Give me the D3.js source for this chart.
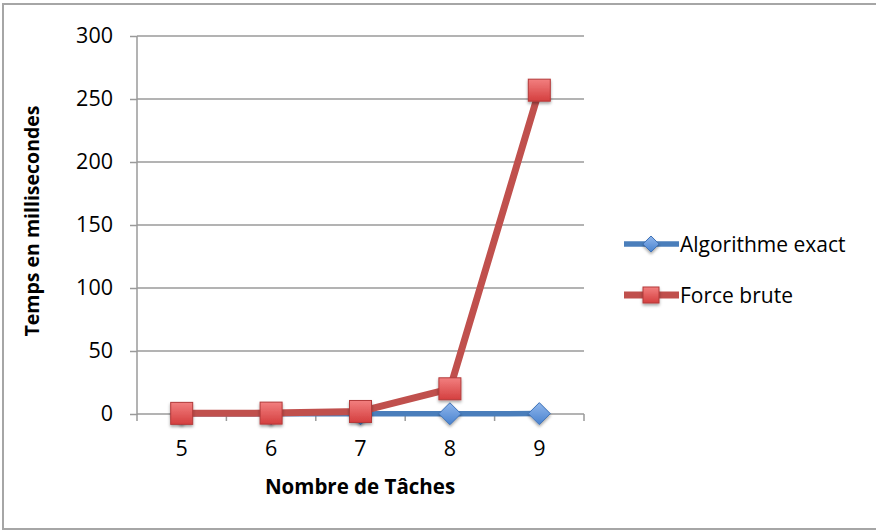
<!DOCTYPE html>
<html>
<head>
<meta charset="utf-8">
<script src="https://cdn.jsdelivr.net/npm/d3@7"></script>
<style>
  html, body { margin: 0; padding: 0; background: #fff; }
  svg { display: block; }
  text { font-family: "Open Sans", "Liberation Sans", sans-serif; fill: #000; }
</style>
</head>
<body>
<svg id="chart" width="876" height="530"></svg>
<script>
// Task counts on the x axis
const categories = ["5", "6", "7", "8", "9"];
// Run time in milliseconds for each method
const exactValues = [0.1, 0.1, 0.1, 0.2, 0.3];
const bruteValues = [0.5, 0.7, 2, 20, 257];
const yTicks = [0, 50, 100, 150, 200, 250, 300];
const seriesNames = ["Algorithme exact", "Force brute"];

const svg = d3.select("#chart");
const defs = svg.append("defs");

// Marker fills and soft shadow
const redGrad = defs.append("linearGradient").attr("id", "redGrad").attr("x1", 0).attr("y1", 0).attr("x2", 0).attr("y2", 1);
redGrad.append("stop").attr("offset", "0%").attr("stop-color", "#f27f7f");
redGrad.append("stop").attr("offset", "100%").attr("stop-color", "#d43f3f");
const blueGrad = defs.append("linearGradient").attr("id", "blueGrad").attr("x1", 0).attr("y1", 0).attr("x2", 0).attr("y2", 1);
blueGrad.append("stop").attr("offset", "0%").attr("stop-color", "#8fb6ec");
blueGrad.append("stop").attr("offset", "100%").attr("stop-color", "#4a83cf");
const shadow = defs.append("filter").attr("id", "shadow").attr("x", "-50%").attr("y", "-50%").attr("width", "200%").attr("height", "200%");
shadow.append("feDropShadow").attr("dx", 0).attr("dy", 2).attr("stdDeviation", 1.6).attr("flood-color", "#000").attr("flood-opacity", 0.35);

// Outer frame
svg.append("rect").attr("x", 3).attr("y", 4).attr("width", 890).attr("height", 525)
  .attr("fill", "#fff").attr("stroke", "#a6a6a6").attr("stroke-width", 2);

const plot = { left: 137, right: 584, top: 36, bottom: 414 };

const x = d3.scaleBand().domain(categories).range([plot.left, plot.right]);
const y = d3.scaleLinear().domain([0, 300]).range([plot.bottom, plot.top]);
const cx = d => x(d) + x.bandwidth() / 2;

// Horizontal gridlines and y ticks
const yAxis = svg.append("g").attr("transform", `translate(${plot.left},0)`)
  .call(d3.axisLeft(y).tickValues(yTicks).tickSize(7).tickPadding(17).tickFormat(d3.format("d")));
yAxis.select(".domain").remove();
yAxis.selectAll("line").attr("stroke", "#9a9a9a").attr("stroke-width", 1.5);
yAxis.selectAll("text").attr("font-size", 21.5);
svg.append("g").selectAll("line").data(yTicks).join("line")
  .attr("x1", plot.left).attr("x2", plot.right)
  .attr("y1", d => y(d)).attr("y2", d => y(d))
  .attr("stroke", "#9a9a9a").attr("stroke-width", 1.5);
svg.append("line").attr("x1", plot.left).attr("x2", plot.left)
  .attr("y1", plot.top).attr("y2", plot.bottom + 1)
  .attr("stroke", "#9a9a9a").attr("stroke-width", 1.5);

// Category boundaries as x ticks
const bounds = categories.map(c => x(c)).concat([plot.right]);
svg.append("g").selectAll("line").data(bounds).join("line")
  .attr("x1", d => d).attr("x2", d => d)
  .attr("y1", plot.bottom).attr("y2", plot.bottom + 7)
  .attr("stroke", "#9a9a9a").attr("stroke-width", 1.5);
svg.append("g").selectAll("text").data(categories).join("text")
  .attr("x", d => cx(d)).attr("y", plot.bottom + 42)
  .attr("text-anchor", "middle").attr("font-size", 21.5).text(d => d);

// Axis titles
svg.append("text").attr("x", 360).attr("y", 494).attr("text-anchor", "middle")
  .attr("font-size", 20.5).attr("font-weight", "bold").text("Nombre de Tâches");
svg.append("text").attr("transform", "translate(39,221) rotate(-90)").attr("text-anchor", "middle")
  .attr("font-size", 19.5).attr("font-weight", "bold").text("Temps en millisecondes");

const line = d3.line().x(d => cx(d.c)).y(d => y(d.v));
const exactData = categories.map((c, i) => ({ c, v: exactValues[i] }));
const bruteData = categories.map((c, i) => ({ c, v: bruteValues[i] }));

const diamond = (g, px, py, r) => g.append("path")
  .attr("d", `M${px},${py - r}L${px + r},${py}L${px},${py + r}L${px - r},${py}Z`)
  .attr("fill", "url(#blueGrad)").attr("stroke", "#3f73b8").attr("stroke-width", 1)
  .attr("filter", "url(#shadow)");
const square = (g, px, py, s) => g.append("rect")
  .attr("x", px - s / 2).attr("y", py - s / 2).attr("width", s).attr("height", s)
  .attr("fill", "url(#redGrad)").attr("stroke", "#b33a3a").attr("stroke-width", 1)
  .attr("filter", "url(#shadow)");

// Exact algorithm series
const gExact = svg.append("g");
gExact.append("path").datum(exactData).attr("d", line)
  .attr("fill", "none").attr("stroke", "#4a7ebb").attr("stroke-width", 5.5).attr("stroke-linejoin", "round");
exactData.forEach(d => diamond(gExact, cx(d.c), y(d.v), 11));

// Brute force series
const gBrute = svg.append("g");
gBrute.append("path").datum(bruteData).attr("d", line)
  .attr("fill", "none").attr("stroke", "#c0504d").attr("stroke-width", 7).attr("stroke-linejoin", "round");
bruteData.forEach(d => square(gBrute, cx(d.c), y(d.v), 22));

// Legend
const legend = svg.append("g");
const legY = [244, 295];
legend.append("line").attr("x1", 624).attr("x2", 679).attr("y1", legY[0]).attr("y2", legY[0])
  .attr("stroke", "#4a7ebb").attr("stroke-width", 5.5);
diamond(legend, 651, legY[0], 8);
legend.append("line").attr("x1", 624).attr("x2", 679).attr("y1", legY[1]).attr("y2", legY[1])
  .attr("stroke", "#c0504d").attr("stroke-width", 7);
square(legend, 651, legY[1], 16);
legend.selectAll("text").data(seriesNames).join("text")
  .attr("x", 680).attr("y", (d, i) => legY[i] + 7.5).attr("font-size", 21).text(d => d);
</script>
</body>
</html>
